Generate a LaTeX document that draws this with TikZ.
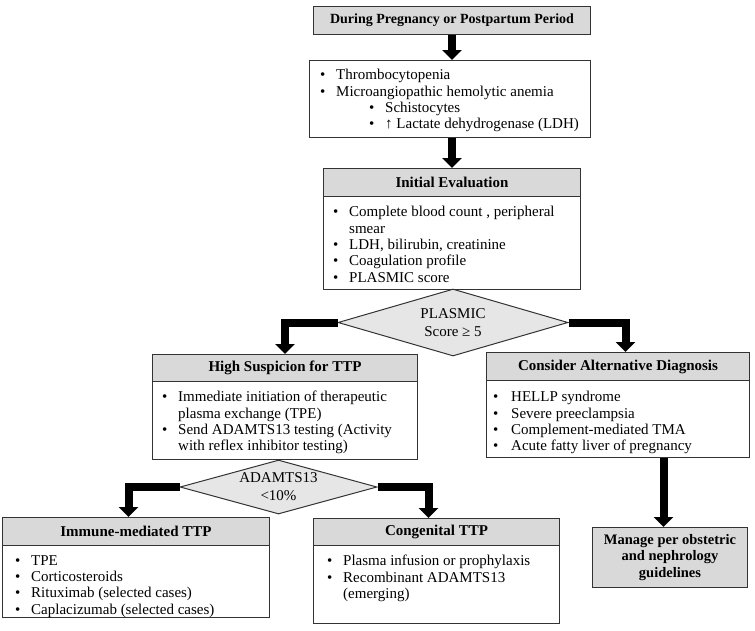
\documentclass[tikz,border=0pt]{standalone}
\usepackage{fontspec}
\setmainfont{Liberation Serif}
\usetikzlibrary{arrows.meta,shapes.geometric,calc}
\definecolor{hdr}{HTML}{D9D9D9}
\definecolor{dia}{HTML}{E6E6E6}
\definecolor{edge}{HTML}{333333}
\newcommand{\bl}{\makebox[16pt][l]{\textbullet}}
\newcommand{\blw}{\makebox[18pt][l]{\textbullet}}
\newcommand{\ind}{\hspace*{16pt}}
\tikzset{
  hbox/.style={draw=edge, fill=hdr, line width=1pt, inner sep=0pt, anchor=north west,
    font=\fontsize{15}{16.5}\selectfont\bfseries},
  bbox/.style={draw=edge, fill=white, line width=1pt, inner sep=0pt, anchor=north west},
  txt/.style={align=left, inner sep=0pt, anchor=north west, font=\fontsize{15}{16.4}\selectfont},
  dbox/.style={diamond, draw=edge, fill=dia, line width=1pt, inner sep=0pt, align=center,
    font=\fontsize{15}{18}\selectfont},
  arr/.style={line width=8pt, -{Triangle[width=19pt,length=10pt]}, black}
}
\begin{document}
\begin{tikzpicture}[x=1pt,y=-1pt]
\useasboundingbox (0,0) rectangle (755,630);
% top
\node[hbox, font=\fontsize{14}{16.5}\selectfont\bfseries, minimum width=277pt, minimum height=28pt] (pp) at (313,6) {During Pregnancy or Postpartum Period};
% signs
\node[bbox, minimum width=281pt, minimum height=77pt] (sx) at (309,60) {};
\node[txt] (sxt) at (320,69) {\bl Thrombocytopenia\\
\bl Microangiopathic hemolytic anemia\\
\hspace*{49pt}\bl Schistocytes\\
\hspace*{49pt}\bl ↑ Lactate dehydrogenase (LDH)};
% initial evaluation
\node[hbox, minimum width=257pt, minimum height=28pt] (ie) at (323,168) {Initial Evaluation};
\node[bbox, minimum width=257pt, minimum height=93pt] (ieb) at (323,196) {};
\node[txt] (iet) at (333,206) {\bl Complete blood count , peripheral\\
\ind smear\\
\bl LDH, bilirubin, creatinine\\
\bl Coagulation profile\\
\bl PLASMIC score};
% PLASMIC diamond
\node[dbox, aspect=3.43, minimum width=230pt, minimum height=67pt] (pl) at (453,322.5) {PLASMIC\\Score ≥ 5};
% high suspicion
\node[hbox, minimum width=265pt, minimum height=27pt] (hs) at (152,354) {High Suspicion for TTP};
\node[bbox, minimum width=265pt, minimum height=78pt] (hsb) at (152,381) {};
\node[txt] (hst) at (162,391) {\bl Immediate initiation of therapeutic\\
\ind plasma exchange (TPE)\\
\bl Send ADAMTS13 testing (Activity\\
\ind with reflex inhibitor testing)};
% consider alternative
\node[hbox, minimum width=263pt, minimum height=28pt] (ca) at (486,352) {Consider Alternative Diagnosis};
\node[bbox, minimum width=263pt, minimum height=77pt] (cab) at (486,380) {};
\node[txt] (cat) at (493,391) {\blw HELLP syndrome\\
\blw Severe preeclampsia\\
\blw Complement-mediated TMA\\
\blw Acute fatty liver of pregnancy};
% ADAMTS13 diamond
\node[dbox, aspect=3.65, minimum width=197pt, minimum height=54pt] (ad) at (278.5,487) {ADAMTS13\\<10\%};
% immune-mediated
\node[hbox, minimum width=267pt, minimum height=28pt] (im) at (2,517) {Immune-mediated TTP};
\node[bbox, minimum width=267pt, minimum height=72pt] (imb) at (2,545) {};
\node[txt] (imt) at (15,555) {\bl TPE\\
\bl Corticosteroids\\
\bl Rituximab (selected cases)\\
\bl Caplacizumab (selected cases)};
% congenital
\node[hbox, minimum width=246pt, minimum height=27pt] (co) at (313,518) {Congenital TTP};
\node[bbox, minimum width=246pt, minimum height=78pt] (cob) at (313,545) {};
\node[txt] (cot) at (327,555) {\bl Plasma infusion or prophylaxis\\
\bl Recombinant ADAMTS13\\
\ind (emerging)};
% manage
\node[hbox, font=\fontsize{14.5}{16.5}\selectfont\bfseries, minimum width=155pt, minimum height=60pt, align=center] (mg) at (592,527) {Manage per obstetric\\and nephrology\\guidelines};
% arrows
\draw[arr] (pp.south) -- (pp.south |- sx.north);
\draw[arr] (ie.north |- sx.south) -- (ie.north);
\draw[arr] (pl.west) -| (hs.north);
\draw[arr] (pl.east) -| ([xshift=7.5pt]ca.north);
\draw[arr] (ad.west) -| ([xshift=-7.5pt]im.north);
\draw[arr] (ad.east) -| ([xshift=-8pt]co.north);
\draw[arr] ([xshift=-6.5pt]mg.north |- cab.south) -- ([xshift=-6.5pt]mg.north);
\end{tikzpicture}
\end{document}
